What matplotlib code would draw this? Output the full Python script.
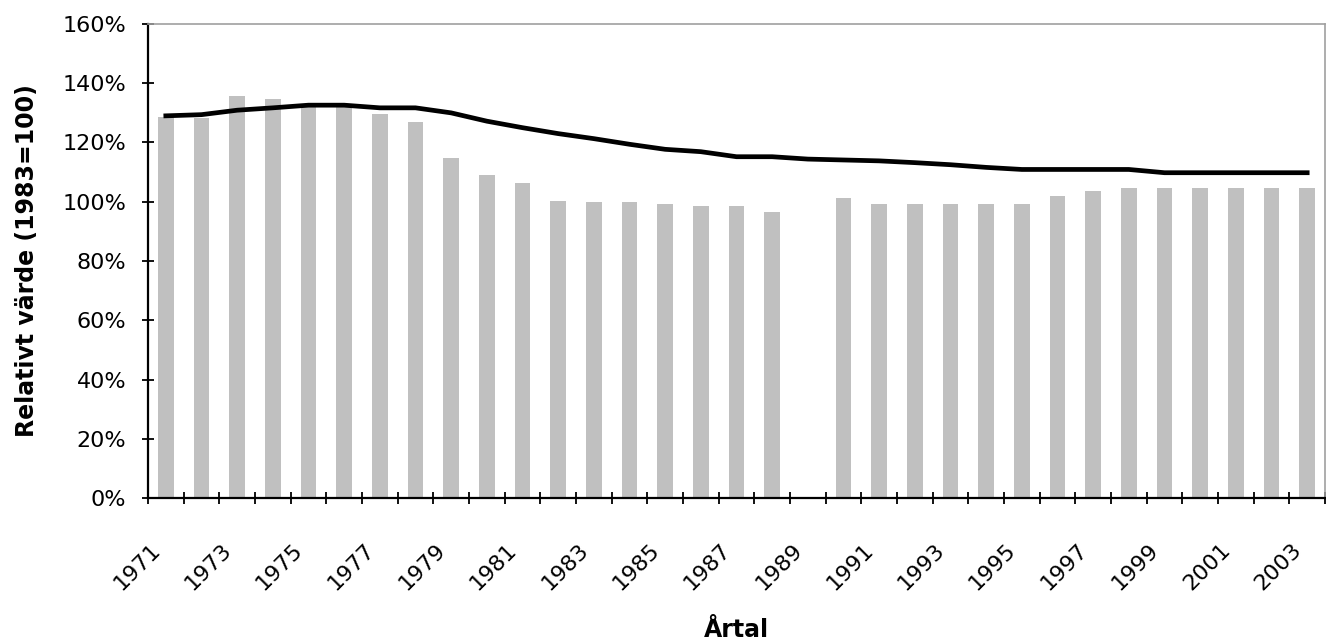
"""Relativt värde per år (1983=100): staplar + linje."""
import matplotlib
matplotlib.use("Agg")
import matplotlib.pyplot as plt
import numpy as np
from matplotlib.ticker import FuncFormatter, FixedLocator

plt.rcParams["font.family"] = ["DejaVu Sans"]

years = list(range(1971, 2004))
# bars, None = missing year (1989)
bar_values = [128.7, 128.4, 135.7, 134.8, 133.0, 132.0, 129.5, 126.9, 114.9, 108.9,
              106.3, 100.2, 100.0, 100.0, 99.4, 98.5, 98.5, 96.7, None, 101.2,
              99.4, 99.4, 99.4, 99.4, 99.4, 102.0, 103.7, 104.6, 104.6, 104.6,
              104.6, 104.6, 104.6]
line_values = [129.0, 129.4, 130.9, 131.7, 132.6, 132.6, 131.7, 131.7, 130.0, 127.2,
               125.0, 123.0, 121.3, 119.4, 117.7, 116.9, 115.2, 115.2, 114.4, 114.1,
               113.8, 113.2, 112.5, 111.6, 110.9, 110.9, 110.9, 110.9, 109.8, 109.8,
               109.8, 109.8, 109.8]
ytick_values = [0, 20, 40, 60, 80, 100, 120, 140, 160]

LABEL_SHIFT = 0.45   # rotated year labels end left of the category centre

x = np.arange(len(years))
bars = np.array([np.nan if v is None else v for v in bar_values])

fig = plt.figure(figsize=(13.26, 6.43), dpi=100)
ax = fig.add_axes([148 / 1326, 145 / 643, (1325 - 148) / 1326, (498 - 24) / 643])

ax.bar(x, bars, width=0.44, color="#c0c0c0", zorder=2)
ax.plot(x, line_values, color="black", linewidth=3.4, zorder=3)

ax.set_yticks(ytick_values)
ax.yaxis.set_major_formatter(FuncFormatter(lambda v, _: f"{v:.0f}%"))
ax.tick_params(axis="y", direction="inout", length=9, width=1.3, labelsize=16, pad=11)

# category labels every other year, tick marks between categories
ax.set_xticks(x[::2] - LABEL_SHIFT)
ax.set_xticklabels([str(y) for y in years[::2]], rotation=45, ha="right",
                   rotation_mode="anchor", fontsize=16)
ax.tick_params(axis="x", which="major", length=0, pad=30)
ax.xaxis.set_minor_locator(FixedLocator(np.arange(-0.5, len(years), 1.0)))
ax.tick_params(axis="x", which="minor", direction="inout", length=9, width=1.3)

# limits after the ticks, set_xticks would widen them
ax.set_xlim(-0.5, len(years) - 0.5)
ax.set_ylim(0, 160)

for side in ("left", "bottom"):
    ax.spines[side].set_color("black")
    ax.spines[side].set_linewidth(1.6)
for side in ("top", "right"):
    ax.spines[side].set_color("#a0a0a0")
    ax.spines[side].set_linewidth(1.2)

ax.set_ylabel("Relativt värde (1983=100)", fontsize=17, fontweight="bold", va="center")
ax.yaxis.set_label_coords(-0.103, 0.5)
ax.set_xlabel("Årtal", fontsize=17, fontweight="bold", va="center")
ax.xaxis.set_label_coords(0.5, -0.278)

fig.savefig("out.png", dpi=100)
